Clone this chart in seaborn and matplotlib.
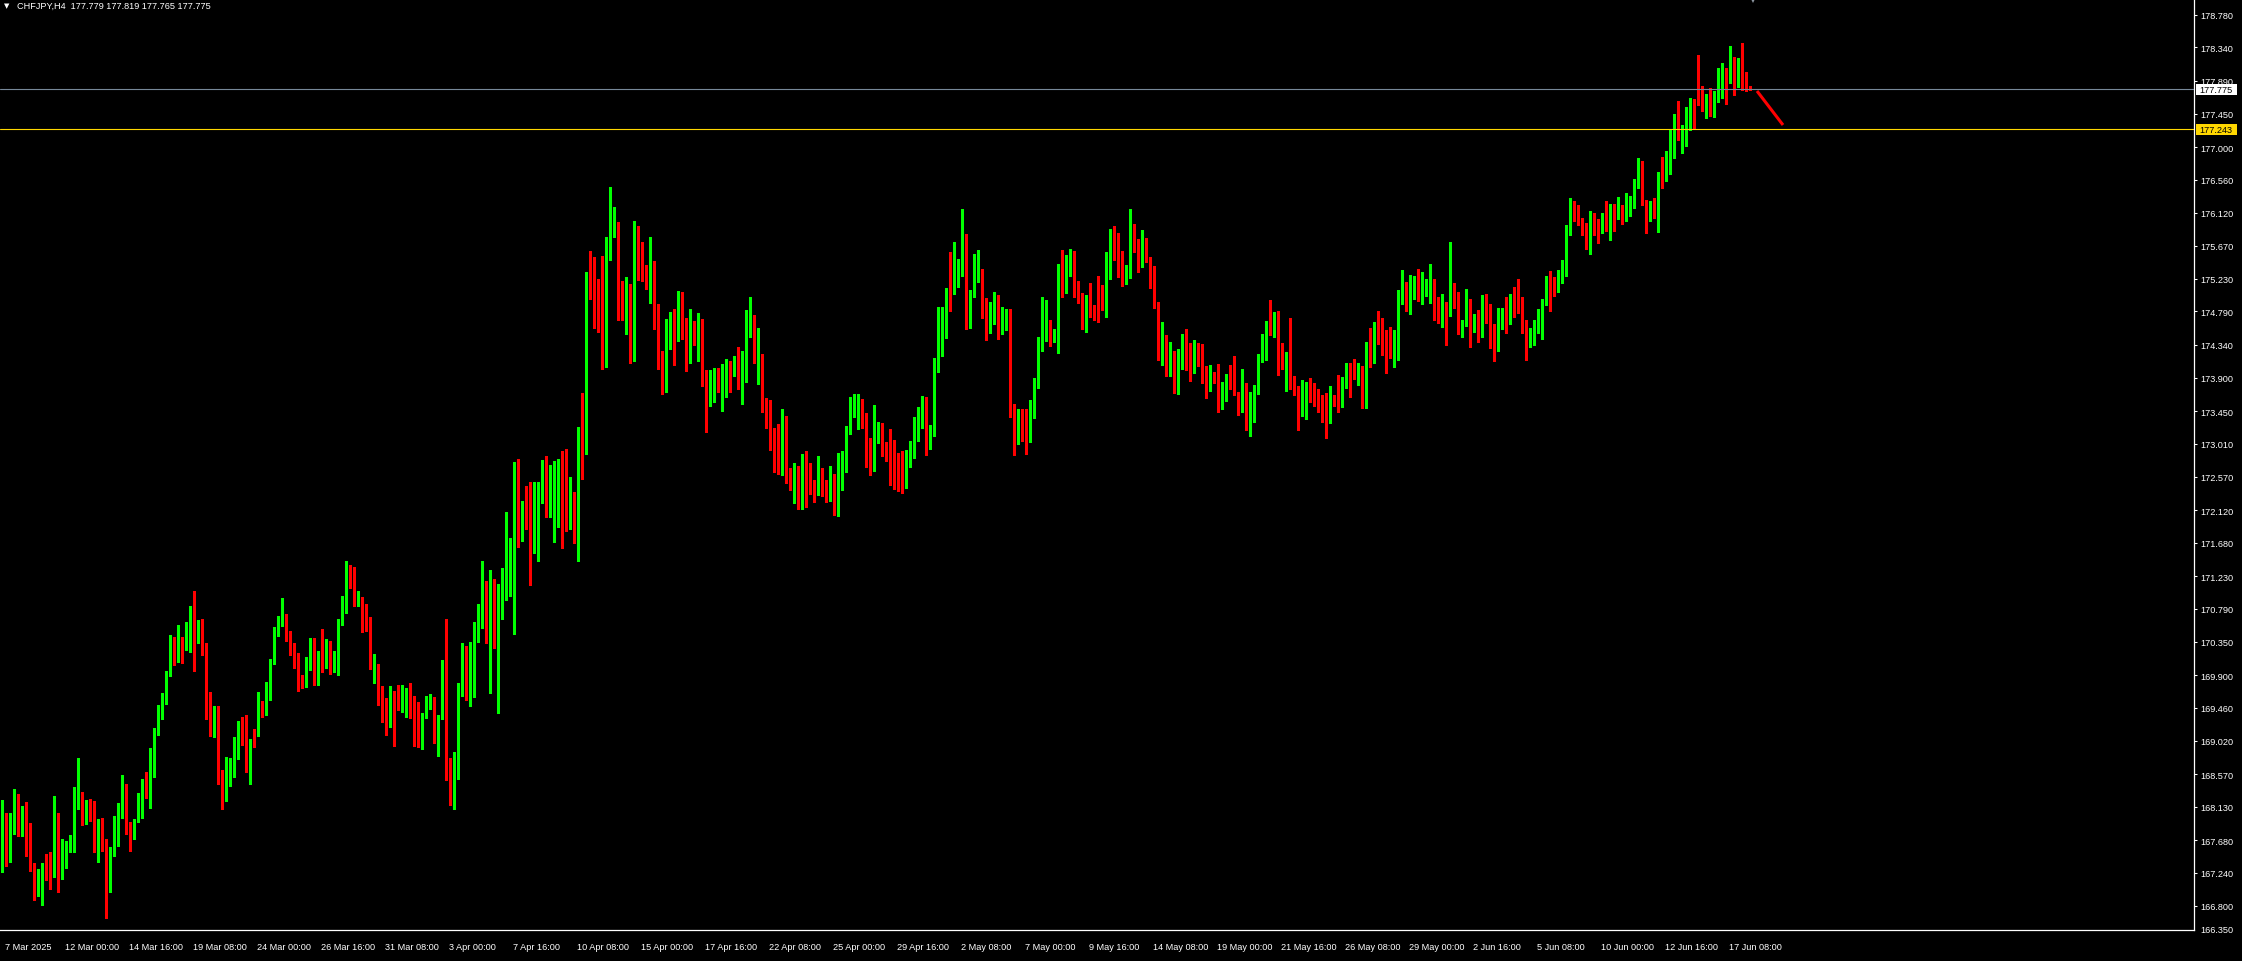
"""Rebuild the CHFJPY H4 MetaTrader candle chart with seaborn styling."""

from __future__ import annotations

import matplotlib

matplotlib.use("Agg")

import matplotlib.pyplot as plt
import matplotlib.transforms as mtransforms
import numpy as np
import pandas as pd
import seaborn as sns
from matplotlib.patches import Rectangle

HEADER = "CHFJPY,H4  177.779 177.819 177.765 177.775"

# candle values, one entry per H4 bar
opens = [
    167.28, 167.82, 167.44, 167.77, 167.91, 167.85, 167.95, 167.86, 167.37, 166.99,
    167.01, 167.31, 167.31, 167.24, 167.86, 167.23, 167.31, 167.57, 167.57, 168.17,
    168.30, 167.94, 168.06, 168.02, 167.55, 167.94, 167.55, 167.01, 167.53, 167.63,
    168.02, 168.41, 167.80, 167.72, 168.02, 168.05, 168.46, 168.41, 168.75, 169.16,
    169.31, 169.52, 169.91, 170.32, 170.13, 170.36, 170.25, 170.41, 170.83, 170.53,
    170.59, 170.29, 169.47, 169.19, 169.28, 168.62, 168.40, 168.62, 168.66, 168.95,
    169.24, 169.15, 168.81, 169.03, 169.15, 169.55, 169.38, 169.59, 170.09, 170.43,
    170.57, 170.63, 170.41, 170.30, 170.06, 169.90, 169.77, 170.00, 170.29, 169.85,
    170.12, 170.00, 170.10, 169.95, 170.12, 170.65, 170.83, 171.24, 171.20, 170.87,
    170.91, 170.59, 170.54, 170.05, 169.83, 169.61, 169.43, 169.25, 169.61, 169.56,
    169.50, 169.56, 169.62, 169.61, 169.17, 169.06, 169.34, 169.57, 169.59, 169.05,
    169.31, 170.04, 168.53, 168.44, 168.53, 169.69, 169.83, 169.61, 169.94, 170.58,
    170.72, 171.13, 170.87, 171.09, 170.22, 170.89, 171.22, 171.27, 171.35, 172.60,
    171.75, 172.12, 172.10, 171.65, 172.27, 172.46, 172.59, 172.36, 172.48, 172.62,
    172.70, 172.05, 171.94, 172.29, 171.79, 173.15, 172.98, 175.32, 175.24, 175.05,
    174.69, 174.15, 175.54, 175.97, 175.32, 174.85, 174.81, 174.84, 174.23, 175.66,
    175.59, 175.35, 175.12, 175.17, 174.84, 174.08, 173.71, 174.42, 174.69, 174.65,
    174.90, 174.51, 174.23, 174.42, 174.38, 174.66, 173.81, 173.53, 173.83, 173.90,
    173.79, 173.80, 173.99, 173.95, 174.08, 173.77, 174.03, 174.60, 174.68, 174.17,
    174.22, 173.55, 173.22, 173.13, 173.06, 172.81, 173.18, 172.56, 172.47, 172.59,
    172.36, 172.67, 172.47, 172.39, 172.32, 172.63, 172.44, 172.34, 172.55, 172.07,
    172.59, 172.83, 173.17, 173.44, 173.48, 173.52, 173.38, 172.93, 172.71, 173.22,
    173.15, 172.95, 172.94, 172.82, 172.73, 172.59, 172.62, 172.75, 172.98, 173.24,
    173.36, 173.51, 173.01, 173.20, 173.99, 174.42, 174.59, 175.08, 175.02, 175.23,
    175.37, 175.72, 174.61, 175.00, 175.33, 175.33, 174.71, 174.68, 174.71, 175.00,
    174.65, 174.65, 174.77, 173.44, 173.11, 173.36, 173.21, 173.04, 173.53, 173.84,
    174.41, 174.42, 174.60, 174.45, 174.47, 175.28, 175.07, 175.33, 175.50, 175.01,
    175.00, 174.66, 174.90, 174.78, 175.27, 175.08, 174.97, 175.36, 175.82, 175.52,
    175.36, 175.21, 175.29, 175.83, 175.63, 175.50, 175.67, 175.48, 175.19, 174.90,
    174.19, 174.23, 174.14, 174.26, 173.79, 174.23, 174.49, 174.11, 174.12, 174.22,
    174.19, 174.04, 173.85, 173.91, 173.85, 173.51, 173.61, 173.94, 173.92, 173.69,
    173.47, 173.59, 173.29, 173.41, 173.72, 174.18, 174.33, 174.63, 174.51, 174.63,
    174.16, 174.12, 174.11, 173.88, 173.79, 173.56, 173.67, 173.79, 173.77, 173.68,
    173.61, 173.44, 173.37, 173.65, 173.59, 173.56, 173.77, 173.99, 173.98, 173.92,
    173.91, 173.53, 174.33, 174.18, 174.51, 174.41, 174.39, 174.29, 174.20, 174.33,
    174.96, 175.16, 175.05, 175.13, 175.20, 175.08, 175.13, 175.13, 175.20, 174.93,
    174.76, 174.81, 174.76, 175.08, 174.90, 174.54, 174.66, 174.94, 174.59, 174.72,
    174.54, 174.90, 174.77, 174.50, 174.27, 174.67, 174.72, 174.65, 174.96, 174.90,
    174.81, 174.57, 174.41, 174.51, 174.66, 174.67, 174.92, 175.19, 175.09, 175.07,
    175.24, 175.44, 175.83, 176.13, 176.10, 176.02, 175.95, 175.64, 176.09, 175.91,
    175.85, 176.07, 175.87, 176.18, 176.06, 176.15, 176.07, 176.18, 176.23, 176.46,
    176.79, 176.26, 176.14, 176.26, 176.15, 176.57, 176.56, 176.81, 177.08, 177.26,
    177.18, 177.19, 177.24, 177.59, 177.82, 177.78, 177.59, 177.70, 177.58, 177.73,
    177.82, 177.97, 177.88, 178.20, 177.90, 178.05, 177.88, 177.779,
]
highs = [
    168.22, 168.05, 168.05, 168.37, 168.30, 168.14, 168.19, 167.91, 167.37, 167.29,
    167.37, 167.49, 167.52, 168.27, 168.05, 167.70, 167.67, 167.75, 168.40, 168.79,
    168.33, 168.22, 168.23, 168.21, 167.97, 167.98, 167.70, 167.59, 168.00, 168.18,
    168.56, 168.44, 167.92, 167.97, 168.31, 168.50, 168.60, 168.92, 169.19, 169.50,
    169.66, 169.95, 170.44, 170.41, 170.57, 170.41, 170.61, 170.83, 171.03, 170.64,
    170.65, 170.33, 169.67, 169.48, 169.48, 168.62, 168.80, 168.79, 169.07, 169.28,
    169.34, 169.36, 169.04, 169.18, 169.67, 169.55, 169.81, 170.12, 170.55, 170.70,
    170.94, 170.72, 170.49, 170.33, 170.20, 169.90, 170.15, 170.40, 170.40, 170.23,
    170.52, 170.38, 170.36, 170.23, 170.66, 170.97, 171.43, 171.38, 171.35, 171.03,
    170.95, 170.85, 170.68, 170.18, 170.05, 169.75, 169.59, 169.76, 169.68, 169.77,
    169.77, 169.73, 169.79, 169.62, 169.54, 169.39, 169.62, 169.65, 169.61, 169.37,
    170.10, 170.66, 168.78, 168.86, 169.79, 170.33, 170.29, 170.34, 170.61, 170.85,
    171.43, 171.17, 171.32, 171.19, 171.12, 171.34, 172.09, 171.75, 172.76, 172.80,
    172.24, 172.44, 172.49, 172.49, 172.49, 172.79, 172.84, 172.72, 172.78, 172.80,
    172.91, 172.94, 172.56, 172.36, 173.24, 173.70, 175.32, 175.60, 175.52, 175.23,
    175.54, 175.79, 176.46, 176.19, 175.99, 175.20, 175.25, 175.16, 176.01, 175.94,
    175.72, 175.41, 175.79, 175.47, 174.89, 174.26, 174.69, 174.78, 174.82, 175.07,
    175.05, 174.70, 174.82, 174.66, 174.77, 174.69, 174.00, 174.00, 174.03, 174.03,
    174.08, 174.15, 174.12, 174.19, 174.31, 174.26, 174.81, 174.99, 174.74, 174.57,
    174.22, 173.63, 173.60, 173.22, 173.28, 173.48, 173.38, 172.69, 172.75, 172.71,
    172.87, 172.91, 172.75, 172.52, 172.85, 172.69, 172.52, 172.71, 172.60, 172.89,
    172.91, 173.25, 173.64, 173.68, 173.68, 173.61, 173.42, 173.09, 173.53, 173.30,
    173.29, 173.04, 173.21, 173.06, 172.89, 172.91, 172.93, 173.05, 173.37, 173.51,
    173.65, 173.64, 173.26, 174.16, 174.85, 174.85, 175.11, 175.59, 175.72, 175.50,
    176.17, 175.83, 175.08, 175.56, 175.62, 175.36, 174.97, 174.92, 175.05, 175.01,
    174.85, 174.82, 174.82, 173.55, 173.48, 173.48, 173.48, 173.60, 173.90, 174.45,
    174.98, 174.94, 174.68, 174.55, 175.43, 175.62, 175.55, 175.63, 175.60, 175.20,
    175.04, 175.01, 175.17, 174.88, 175.27, 175.15, 175.59, 175.90, 175.94, 175.85,
    175.60, 175.41, 176.17, 175.97, 175.76, 175.89, 175.78, 175.52, 175.40, 174.92,
    174.65, 174.47, 174.38, 174.26, 174.29, 174.49, 174.55, 174.37, 174.41, 174.37,
    174.35, 174.06, 174.07, 173.98, 174.08, 173.84, 173.95, 174.07, 174.19, 173.71,
    174.02, 173.83, 173.71, 173.80, 174.22, 174.49, 174.66, 174.94, 174.78, 174.80,
    174.37, 174.24, 174.70, 173.92, 173.79, 173.87, 173.84, 173.90, 173.83, 173.75,
    173.67, 173.69, 173.79, 173.67, 173.94, 173.91, 174.10, 174.10, 174.15, 174.10,
    174.06, 174.38, 174.57, 174.65, 174.80, 174.70, 174.54, 174.58, 174.54, 175.08,
    175.35, 175.19, 175.28, 175.27, 175.36, 175.32, 175.23, 175.43, 175.23, 174.98,
    175.03, 174.92, 175.72, 175.17, 175.05, 174.68, 175.09, 174.96, 174.76, 174.81,
    175.01, 175.03, 174.89, 174.62, 174.84, 174.84, 174.99, 175.03, 175.12, 175.23,
    174.98, 174.67, 174.57, 174.68, 174.82, 174.96, 175.27, 175.33, 175.25, 175.35,
    175.48, 175.95, 176.32, 176.27, 176.22, 176.05, 175.98, 176.14, 176.11, 176.03,
    176.11, 176.27, 176.23, 176.23, 176.33, 176.22, 176.38, 176.34, 176.57, 176.85,
    176.81, 176.29, 176.27, 176.32, 176.66, 176.87, 176.95, 177.24, 177.44, 177.62,
    177.30, 177.54, 177.66, 177.65, 178.24, 177.82, 177.71, 177.79, 177.75, 178.06,
    178.13, 178.06, 178.36, 178.21, 178.20, 178.40, 178.01, 177.819,
]
lows = [
    167.25, 167.34, 167.39, 167.76, 167.74, 167.74, 167.47, 167.27, 166.87, 166.93,
    166.81, 167.14, 167.02, 167.19, 166.99, 167.16, 167.31, 167.52, 167.52, 168.10,
    167.88, 167.90, 167.94, 167.52, 167.39, 167.53, 166.63, 166.98, 167.47, 167.60,
    167.98, 167.76, 167.54, 167.70, 167.93, 167.98, 168.25, 168.11, 168.53, 169.09,
    169.31, 169.51, 169.89, 170.03, 170.08, 170.06, 170.24, 170.21, 169.95, 170.33,
    170.17, 169.31, 169.08, 169.07, 168.44, 168.10, 168.21, 168.41, 168.53, 168.77,
    168.96, 168.60, 168.44, 168.93, 169.08, 169.34, 169.36, 169.57, 170.05, 170.43,
    170.56, 170.36, 170.17, 170.00, 169.69, 169.73, 169.74, 169.97, 169.77, 169.77,
    169.94, 169.99, 169.91, 169.94, 169.90, 170.58, 170.73, 171.07, 170.83, 170.83,
    170.48, 170.50, 169.98, 169.80, 169.50, 169.27, 169.09, 169.20, 168.95, 169.43,
    169.40, 169.34, 169.33, 168.95, 168.93, 168.91, 169.33, 169.45, 168.99, 168.81,
    169.31, 168.49, 168.15, 168.10, 168.51, 169.62, 169.56, 169.49, 169.60, 170.34,
    170.54, 170.33, 169.66, 170.26, 169.39, 170.66, 170.91, 170.96, 170.45, 171.62,
    171.70, 171.86, 171.11, 171.54, 171.43, 172.21, 172.03, 172.03, 171.69, 171.89,
    171.61, 171.84, 171.86, 171.68, 171.44, 172.54, 172.87, 174.96, 174.57, 174.51,
    174.01, 174.04, 175.48, 175.79, 174.68, 174.68, 174.49, 174.10, 174.12, 175.21,
    175.20, 175.09, 174.90, 174.55, 174.02, 173.68, 173.71, 174.29, 174.07, 174.39,
    174.42, 173.99, 174.10, 174.34, 174.12, 173.79, 173.17, 173.52, 173.57, 173.71,
    173.45, 173.64, 173.71, 173.92, 173.75, 173.55, 173.84, 174.45, 174.10, 173.81,
    173.44, 173.22, 172.93, 172.63, 172.60, 172.59, 172.48, 172.39, 172.22, 172.14,
    172.14, 172.16, 172.34, 172.23, 172.32, 172.31, 172.23, 172.24, 172.05, 172.04,
    172.39, 172.63, 173.14, 173.37, 173.21, 173.22, 172.70, 172.59, 172.65, 173.02,
    172.85, 172.78, 172.45, 172.40, 172.38, 172.35, 172.42, 172.70, 172.82, 173.05,
    173.22, 172.86, 172.94, 173.11, 173.98, 174.19, 174.43, 174.80, 175.02, 175.12,
    175.27, 174.55, 174.57, 174.99, 175.19, 174.70, 174.41, 174.50, 174.62, 174.42,
    174.49, 174.54, 173.37, 172.86, 173.01, 173.05, 172.87, 173.04, 173.36, 173.76,
    174.26, 174.39, 174.33, 174.38, 174.23, 174.99, 175.04, 175.27, 174.99, 174.90,
    174.55, 174.51, 174.72, 174.68, 174.65, 174.81, 174.72, 175.23, 175.48, 175.25,
    175.13, 175.16, 175.24, 175.59, 175.32, 175.39, 175.46, 175.10, 174.84, 174.14,
    174.07, 173.92, 173.92, 173.69, 173.68, 174.02, 174.00, 173.85, 173.96, 174.06,
    173.83, 173.63, 173.72, 173.83, 173.44, 173.48, 173.59, 173.75, 173.67, 173.40,
    173.44, 173.20, 173.12, 173.30, 173.68, 174.11, 174.14, 174.47, 174.45, 173.94,
    174.02, 173.72, 173.75, 173.67, 173.20, 173.38, 173.34, 173.57, 173.52, 173.44,
    173.30, 173.09, 173.29, 173.52, 173.44, 173.50, 173.76, 173.64, 173.88, 173.80,
    173.49, 173.49, 174.04, 174.10, 174.35, 174.20, 173.96, 174.16, 174.04, 174.14,
    174.89, 174.80, 174.76, 174.96, 174.93, 174.89, 175.00, 174.90, 174.68, 174.64,
    174.58, 174.34, 174.73, 174.84, 174.49, 174.45, 174.59, 174.31, 174.51, 174.38,
    174.45, 174.63, 174.30, 174.12, 174.26, 174.55, 174.50, 174.62, 174.71, 174.77,
    174.50, 174.14, 174.31, 174.34, 174.50, 174.42, 174.88, 174.79, 175.00, 175.05,
    175.17, 175.27, 175.82, 176.01, 175.95, 175.82, 175.63, 175.56, 175.82, 175.71,
    175.85, 175.87, 175.75, 175.87, 176.03, 175.97, 176.00, 176.07, 176.18, 176.45,
    176.22, 175.85, 176.01, 176.05, 175.86, 176.45, 176.54, 176.64, 176.85, 177.10,
    176.92, 177.01, 177.23, 177.26, 177.57, 177.48, 177.39, 177.42, 177.40, 177.61,
    177.66, 177.58, 177.86, 177.70, 177.81, 177.77, 177.75, 177.765,
]
closes = [
    167.82, 167.44, 167.78, 168.21, 167.85, 167.95, 167.85, 167.36, 166.99, 167.02,
    167.31, 167.29, 167.24, 167.87, 167.23, 167.28, 167.58, 167.58, 168.18, 168.31,
    167.93, 168.06, 168.00, 167.57, 167.94, 167.54, 167.01, 167.47, 167.64, 168.03,
    168.41, 167.85, 167.72, 167.86, 168.06, 168.46, 168.41, 168.76, 169.18, 169.31,
    169.54, 169.93, 170.32, 170.13, 170.36, 170.18, 170.43, 170.83, 170.55, 170.59,
    170.35, 169.46, 169.19, 169.28, 168.61, 168.38, 168.64, 168.65, 168.96, 169.24,
    169.14, 168.80, 169.03, 168.99, 169.55, 169.38, 169.61, 170.10, 170.44, 170.53,
    170.63, 170.40, 170.29, 170.01, 169.89, 169.77, 170.02, 170.29, 169.85, 170.12,
    170.02, 170.11, 169.95, 170.14, 170.66, 170.84, 171.24, 171.16, 170.87, 170.91,
    170.58, 170.53, 170.05, 170.07, 169.60, 169.42, 169.25, 169.61, 169.53, 169.47,
    169.57, 169.62, 169.59, 169.14, 169.06, 169.36, 169.57, 169.58, 169.05, 169.33,
    170.05, 168.51, 168.44, 168.55, 169.71, 169.84, 169.61, 170.00, 170.59, 170.73,
    171.13, 170.87, 171.09, 170.59, 170.91, 171.24, 171.28, 171.36, 172.60, 171.81,
    172.12, 172.09, 171.65, 172.28, 172.48, 172.71, 172.36, 172.49, 172.62, 172.70,
    172.02, 171.84, 172.29, 171.78, 173.15, 172.98, 175.32, 175.20, 175.04, 174.67,
    174.15, 175.56, 175.98, 176.07, 174.84, 174.81, 174.84, 174.23, 175.67, 175.56,
    175.33, 175.12, 175.17, 174.82, 174.07, 173.68, 174.43, 174.69, 174.65, 174.90,
    174.50, 174.20, 174.42, 174.38, 174.66, 173.81, 173.53, 173.81, 173.91, 173.79,
    173.81, 173.99, 173.95, 174.14, 173.77, 174.04, 174.61, 174.68, 174.17, 174.33,
    173.53, 173.22, 173.11, 173.04, 172.81, 172.99, 172.55, 172.47, 172.59, 172.36,
    172.67, 172.48, 172.38, 172.32, 172.63, 172.43, 172.34, 172.56, 172.07, 172.60,
    172.83, 173.18, 173.45, 173.49, 173.52, 173.38, 172.91, 172.70, 173.22, 173.22,
    172.94, 172.93, 172.81, 172.71, 172.58, 172.56, 172.77, 172.99, 173.25, 173.36,
    173.51, 173.06, 173.21, 174.00, 174.43, 174.71, 175.08, 174.96, 175.24, 175.37,
    175.74, 174.62, 175.01, 175.23, 175.33, 174.71, 174.66, 174.68, 175.00, 174.55,
    174.66, 174.77, 173.43, 173.11, 173.36, 173.11, 173.04, 173.55, 173.87, 174.42,
    174.51, 174.58, 174.45, 174.49, 175.28, 175.05, 175.35, 175.54, 175.00, 174.99,
    174.65, 174.90, 174.77, 174.72, 175.07, 174.99, 175.37, 175.82, 175.51, 175.29,
    175.21, 175.32, 175.83, 175.60, 175.50, 175.66, 175.48, 175.17, 174.89, 174.19,
    174.23, 174.11, 174.18, 173.79, 174.25, 174.49, 174.10, 174.06, 174.22, 174.18,
    174.03, 173.85, 173.91, 173.84, 173.49, 173.63, 173.94, 173.91, 173.67, 173.47,
    173.59, 173.29, 173.44, 173.73, 174.20, 174.35, 174.63, 174.51, 174.62, 174.15,
    174.12, 174.16, 173.87, 173.77, 173.56, 173.69, 173.77, 173.76, 173.67, 173.60,
    173.43, 173.37, 173.67, 173.56, 173.56, 173.79, 173.98, 173.96, 173.92, 173.95,
    173.53, 174.33, 174.18, 174.54, 174.39, 174.40, 174.27, 174.20, 174.34, 174.97,
    175.17, 175.07, 175.15, 175.20, 175.08, 175.16, 175.16, 175.23, 174.92, 174.77,
    174.80, 174.76, 175.08, 174.94, 174.54, 174.67, 174.94, 174.61, 174.72, 174.54,
    174.90, 174.76, 174.49, 174.27, 174.69, 174.70, 174.65, 174.96, 174.89, 174.81,
    174.55, 174.38, 174.53, 174.67, 174.69, 174.93, 175.19, 175.08, 175.07, 175.25,
    175.45, 175.84, 176.13, 176.09, 176.01, 175.92, 175.64, 176.09, 175.90, 175.83,
    176.07, 175.87, 176.18, 176.06, 176.15, 176.07, 176.20, 176.25, 176.48, 176.79,
    176.25, 176.14, 176.25, 176.15, 176.57, 176.54, 176.83, 177.13, 177.26, 177.18,
    177.20, 177.26, 177.59, 177.54, 177.77, 177.59, 177.70, 177.58, 177.74, 177.90,
    177.97, 177.88, 178.20, 177.90, 178.05, 177.90, 177.78, 177.775,
]

time_labels = [
    "7 Mar 2025", "12 Mar 00:00", "14 Mar 16:00", "19 Mar 08:00", "24 Mar 00:00",
    "26 Mar 16:00", "31 Mar 08:00", "3 Apr 00:00", "7 Apr 16:00", "10 Apr 08:00",
    "15 Apr 00:00", "17 Apr 16:00", "22 Apr 08:00", "25 Apr 00:00", "29 Apr 16:00",
    "2 May 08:00", "7 May 00:00", "9 May 16:00", "14 May 08:00", "19 May 00:00",
    "21 May 16:00", "26 May 08:00", "29 May 00:00", "2 Jun 16:00", "5 Jun 08:00",
    "10 Jun 00:00", "12 Jun 16:00", "17 Jun 08:00",
]
time_label_bars = [0, 15, 31, 47, 63, 79, 95, 111, 127, 143, 159, 175, 191, 207,
                   223, 239, 255, 271, 287, 303, 319, 335, 351, 367, 383, 399,
                   415, 431]

price_ticks = [
    178.780, 178.340, 177.890, 177.450, 177.000, 176.560, 176.120, 175.670,
    175.230, 174.790, 174.340, 173.900, 173.450, 173.010, 172.570, 172.120,
    171.680, 171.230, 170.790, 170.350, 169.900, 169.460, 169.020, 168.570,
    168.130, 167.680, 167.240, 166.800,
]
bottom_price_label = "166.350"

bid_price = 177.775
level_price = 177.243

# hand-drawn projection line after the last bar
arrow_bars = [438.75, 445.25]
arrow_prices = [177.754, 177.297]
shift_marker_bar = 437.75

BULL = "#00FF00"
BEAR = "#FF0000"
BID_COLOR = "#778899"
LEVEL_COLOR = "#FFD700"
TEXT_COLOR = "#FFFFFF"
FONT_SIZE = 6.6

FIG_W, FIG_H = 2242, 962
AX_W, AX_H = 2194, 931


def build_frame() -> pd.DataFrame:
    frame = pd.DataFrame({"open": opens, "high": highs, "low": lows, "close": closes})
    frame["bar"] = np.arange(len(frame))
    frame["bull"] = frame["close"] >= frame["open"]
    return frame


def draw_candles(ax: plt.Axes, frame: pd.DataFrame) -> None:
    colors = np.where(frame["bull"], BULL, BEAR)
    ax.vlines(frame["bar"], frame["low"], frame["high"], colors=colors,
              linewidth=0.75, antialiased=False, zorder=2)
    bottom = np.minimum(frame["open"], frame["close"])
    height = np.maximum((frame["close"] - frame["open"]).abs(), 0.014)
    ax.bar(frame["bar"], height, bottom=bottom, width=0.75, color=colors,
           linewidth=0, antialiased=False, zorder=2)


def price_box(ax: plt.Axes, price: float, text: str, face: str) -> None:
    trans = mtransforms.blended_transform_factory(ax.transAxes, ax.transData)
    px_per_price = AX_H / (ax.get_ylim()[1] - ax.get_ylim()[0])
    half = 5.5 / px_per_price
    ax.add_patch(Rectangle((1 + 2 / AX_W, price - half), 41 / AX_W, 2 * half,
                           transform=trans, facecolor=face, edgecolor="none",
                           clip_on=False, zorder=6))
    ax.text(1 + 5 / AX_W, price, text, transform=trans, color="black",
            fontsize=FONT_SIZE, va="center", ha="left", clip_on=False, zorder=7)


def main() -> None:
    sns.set_theme(style="dark", rc={
        "figure.facecolor": "black",
        "axes.facecolor": "black",
        "savefig.facecolor": "black",
        "axes.grid": False,
    })
    plt.rcParams["font.family"] = ["Liberation Sans", "DejaVu Sans"]

    frame = build_frame()

    fig = plt.figure(figsize=(FIG_W / 100, FIG_H / 100), dpi=100)
    ax = fig.add_axes([0, (FIG_H - AX_H) / FIG_H, AX_W / FIG_W, AX_H / FIG_H])
    ax.set_facecolor("black")
    ax.set_xlim(-0.5, 548)
    ax.set_ylim(166.473, 178.991)

    draw_candles(ax, frame)

    ax.axhline(bid_price, color=BID_COLOR, linewidth=0.8, zorder=3)
    ax.axhline(level_price, color=LEVEL_COLOR, linewidth=0.8, zorder=3)

    sns.lineplot(x=arrow_bars, y=arrow_prices, color=BEAR, linewidth=2.2,
                 ax=ax, zorder=4, solid_capstyle="butt")
    ax.plot([shift_marker_bar], [178.975], marker="v", markersize=4.5,
            color="#8C96A0", markeredgewidth=0, clip_on=False, zorder=5)

    for side in ("top", "left"):
        ax.spines[side].set_visible(False)
    for side in ("right", "bottom"):
        ax.spines[side].set_visible(True)
        ax.spines[side].set_color(TEXT_COLOR)
        ax.spines[side].set_linewidth(0.9)

    ax.yaxis.tick_right()
    ax.set_yticks(price_ticks)
    ax.set_yticklabels([f"{p:.3f}" for p in price_ticks])
    ax.tick_params(axis="y", direction="out", length=2.2, width=0.75,
                   colors=TEXT_COLOR, labelsize=FONT_SIZE, pad=2.2)
    ax.text(1 + 6 / AX_W, 0.0, bottom_price_label, transform=ax.transAxes,
            color=TEXT_COLOR, fontsize=FONT_SIZE, va="center", ha="left",
            clip_on=False)

    ax.set_xticks(time_label_bars)
    ax.set_xticklabels(time_labels)
    ax.tick_params(axis="x", direction="out", length=3, width=0.75,
                   colors=TEXT_COLOR, labelsize=FONT_SIZE, pad=5.5)
    shift = mtransforms.ScaledTranslation(3 / 100, 0, fig.dpi_scale_trans)
    for label in ax.get_xticklabels():
        label.set_horizontalalignment("left")
        label.set_transform(label.get_transform() + shift)

    price_box(ax, bid_price, f"{bid_price:.3f}", "white")
    price_box(ax, level_price, f"{level_price:.3f}", LEVEL_COLOR)

    fig.text(3.5 / FIG_W, 1 - 6.5 / FIG_H, "\u25bc", color=TEXT_COLOR, fontsize=5,
             family="DejaVu Sans", va="center", ha="left")
    fig.text(17 / FIG_W, 1 - 6.5 / FIG_H, HEADER, color=TEXT_COLOR,
             fontsize=FONT_SIZE, va="center", ha="left")

    fig.savefig("out.png", dpi=100, facecolor="black")
    plt.close(fig)


if __name__ == "__main__":
    main()
